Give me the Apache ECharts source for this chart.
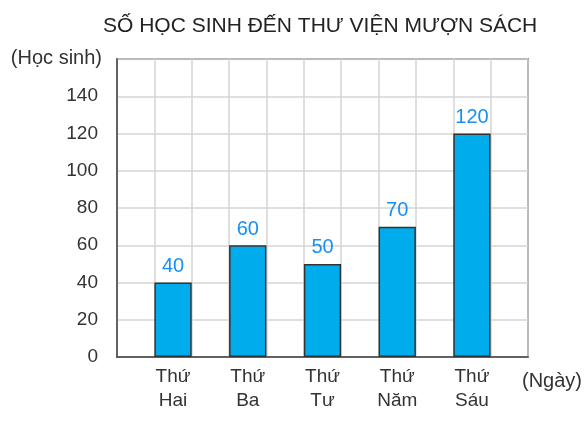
<!DOCTYPE html>
<html>
<head>
<meta charset="utf-8">
<script src="https://cdn.jsdelivr.net/npm/echarts@6/dist/echarts.min.js"></script>
<style>
  html, body { margin: 0; padding: 0; background: #fff; }
  #chart { width: 586px; height: 423px; }
</style>
</head>
<body>
<div id="chart"></div>
<script>
// dữ liệu
var days = ['Thứ\nHai', 'Thứ\nBa', 'Thứ\nTư', 'Thứ\nNăm', 'Thứ\nSáu'];
var students = [40, 60, 50, 70, 120];
var yTicks = [0, 20, 40, 60, 80, 100, 120, 140];

// mỗi cột nằm trong ô lưới thứ 2, 4, 6, 8, 10 (tổng 11 ô)
var slots = [];
var slotValues = [];
for (var i = 0; i < 11; i++) {
    var k = (i - 1) / 2;
    if (i % 2 === 1 && k < days.length) {
        slots.push(days[k]);
        slotValues.push(students[k]);
    } else {
        slots.push('');
        slotValues.push('-');
    }
}

var myChart = echarts.init(document.getElementById('chart'));
var font = 'Liberation Sans, Arial, sans-serif';

var option = {
    animation: false,
    title: {
        text: 'SỐ HỌC SINH ĐẾN THƯ VIỆN MƯỢN SÁCH',
        left: 98,
        top: 11,
        textStyle: { fontFamily: font, fontSize: 21, fontWeight: 'normal', color: '#222' }
    },
    grid: {
        left: 117, right: 58, top: 59, bottom: 66,
        show: true,
        borderColor: '#444',
        borderWidth: 1.5
    },
    xAxis: {
        type: 'category',
        data: slots,
        boundaryGap: true,
        name: '(Ngày)',
        nameLocation: 'end',
        nameGap: -6,
        nameTextStyle: {
            fontFamily: font, fontSize: 20, color: '#333',
            verticalAlign: 'top', align: 'left', padding: [14, 0, 0, 0]
        },
        axisLine: { show: true, lineStyle: { color: '#444', width: 1.5 } },
        axisTick: { show: false },
        axisLabel: {
            interval: 0,
            margin: 8,
            fontFamily: font, fontSize: 19, color: '#333',
            lineHeight: 24
        },
        splitLine: { show: true, interval: 0, lineStyle: { color: '#d4d4d4', width: 1.5 } }
    },
    yAxis: {
        type: 'value',
        min: 0,
        max: 160,
        interval: 20,
        name: '(Học sinh)',
        nameLocation: 'end',
        nameGap: 1,
        nameTextStyle: {
            fontFamily: font, fontSize: 20, color: '#333',
            align: 'right', verticalAlign: 'middle', padding: [0, 15, 0, 0]
        },
        axisLine: { show: true, lineStyle: { color: '#444', width: 1.5 } },
        axisTick: { show: false },
        axisLabel: {
            margin: 19,
            fontFamily: font, fontSize: 19, color: '#333',
            formatter: function (v) {
                return yTicks.indexOf(v) >= 0 ? String(v) : '';
            }
        },
        splitLine: { show: true, lineStyle: { color: '#d4d4d4', width: 1.5 } }
    },
    series: [{
        type: 'bar',
        data: slotValues,
        barWidth: '100%',
        itemStyle: { color: '#00acec', borderColor: '#333', borderWidth: 1.5 },
        label: {
            show: true,
            position: 'top',
            distance: 6,
            fontFamily: font, fontSize: 20, color: '#1a8ff0'
        }
    }]
};

myChart.setOption(option, true);
window.addEventListener('resize', myChart.resize);
</script>
</body>
</html>
